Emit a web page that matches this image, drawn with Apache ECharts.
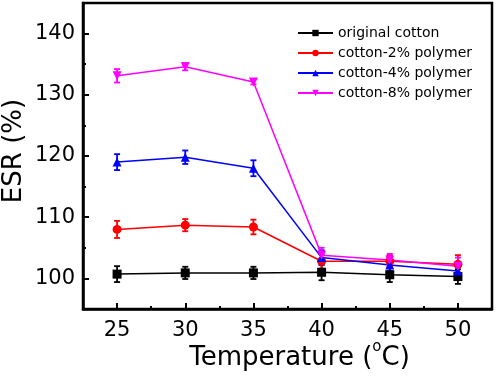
<!DOCTYPE html>
<html>
<head>
<meta charset="utf-8">
<script src="https://cdn.jsdelivr.net/npm/echarts@6/dist/echarts.min.js"></script>
<style>
  html, body { margin: 0; padding: 0; background: #fff; }
  #main { width: 498px; height: 377px; }
</style>
</head>
<body>
<div id="main"></div>
<script>
// temperatures (°C)
var temps = [25, 30, 35, 40, 45, 50];
var seriesNames = ['original cotton', 'cotton-2% polymer', 'cotton-4% polymer', 'cotton-8% polymer'];
var colors = ['#000000', '#ff0000', '#0000ff', '#ff00ff'];

// ESR values
var esrOriginal = [100.7, 100.9, 100.9, 101.0, 100.6, 100.3];
var esr2 = [108.0, 108.7, 108.4, 102.8, 102.8, 102.3];
var esr4 = [119.0, 119.8, 118.0, 103.4, 102.2, 101.2];
var esr8 = [133.1, 134.6, 132.1, 103.8, 103.0, 102.0];

// error bar half widths
var errOriginal = [1.3, 1.0, 1.0, 1.3, 1.2, 1.2];
var err2 = [1.4, 1.0, 1.2, 1.2, 1.0, 1.5];
var err4 = [1.3, 1.1, 1.3, 1.2, 1.0, 1.0];
var err8 = [1.1, 0.6, 0.4, 1.2, 1.0, 1.4];

var xTicks = [25, 30, 35, 40, 45, 50];
var xMinor = [27.5, 32.5, 37.5, 42.5, 47.5];
var yTicks = [100, 110, 120, 130, 140];
var yMinor = [105, 115, 125, 135];

var values = [esrOriginal, esr2, esr4, esr8];
var errors = [errOriginal, err2, err4, err8];
var symbols = ['rect', 'circle', 'triangle', 'path://M0,0 L10,0 L5,9 Z'];

var font = 'DejaVu Sans, Liberation Sans, sans-serif';
var myChart = echarts.init(document.getElementById('main'));

var series = [];
for (var s = 0; s < values.length; s++) {
    var pts = [];
    var bars = [];
    for (var i = 0; i < temps.length; i++) {
        pts.push([temps[i], values[s][i]]);
        bars.push([temps[i], values[s][i] - errors[s][i], values[s][i] + errors[s][i]]);
    }
    series.push({
        name: seriesNames[s],
        type: 'line',
        data: pts,
        symbol: symbols[s],
        symbolSize: 9,
        color: colors[s],
        lineStyle: { width: 1.5, color: colors[s] },
        itemStyle: { color: colors[s] },
        z: 3
    });
    series.push({
        name: seriesNames[s],
        type: 'custom',
        data: bars,
        z: 2,
        renderItem: (function (col) {
            return function (params, api) {
                var x = api.value(0);
                var lo = api.coord([x, api.value(1)]);
                var hi = api.coord([x, api.value(2)]);
                var w = 3;
                var st = { stroke: col, lineWidth: 1.8 };
                return {
                    type: 'group',
                    children: [
                        { type: 'line', shape: { x1: lo[0], y1: lo[1], x2: hi[0], y2: hi[1] }, style: st },
                        { type: 'line', shape: { x1: lo[0] - w, y1: lo[1], x2: lo[0] + w, y2: lo[1] }, style: st },
                        { type: 'line', shape: { x1: hi[0] - w, y1: hi[1], x2: hi[0] + w, y2: hi[1] }, style: st }
                    ]
                };
            };
        })(colors[s])
    });
}

var option = {
    animation: false,
    backgroundColor: '#fff',
    textStyle: { fontFamily: font },
    grid: {
        left: 83, top: 3, right: 6, bottom: 68,
        outerBoundsMode: 'none',
        containLabel: false,
        show: true, borderColor: '#000', borderWidth: 2.5, backgroundColor: 'transparent'
    },
    legend: {
        data: seriesNames,
        orient: 'vertical',
        left: 292,
        top: 21,
        itemWidth: 35,
        itemHeight: 8,
        itemGap: 6,
        textStyle: { fontSize: 14, color: '#000', fontFamily: font }
    },
    xAxis: [{
        type: 'value',
        min: 22.5, max: 52.5, interval: 2.5,
        splitLine: { show: false },
        axisLine: { show: true, lineStyle: { color: '#000', width: 2.5 } },
        axisTick: { inside: true, length: 6, customValues: xTicks, lineStyle: { color: '#000', width: 2 } },
        axisLabel: { customValues: xTicks, fontSize: 21, color: '#000', margin: 11, fontFamily: font },
        name: '{a|Temperature (}{s|o}{a|C)}',
        nameLocation: 'middle',
        nameGap: 31,
        nameMoveOverlap: false,
        nameTextStyle: {
            padding: [0, 0, 0, 24],
            rich: {
                a: { fontSize: 26, lineHeight: 36, color: '#000', fontFamily: font },
                s: { fontSize: 15, lineHeight: 12, color: '#000', verticalAlign: 'top', fontFamily: font }
            }
        }
    }, {
        type: 'value',
        position: 'bottom',
        min: 22.5, max: 52.5, interval: 2.5,
        splitLine: { show: false },
        axisLine: { show: false },
        axisTick: { inside: true, length: 3, customValues: xMinor, lineStyle: { color: '#000', width: 2 } },
        axisLabel: { show: false }
    }],
    yAxis: [{
        type: 'value',
        min: 95, max: 145, interval: 5,
        splitLine: { show: false },
        axisLine: { show: true, lineStyle: { color: '#000', width: 2.5 } },
        axisTick: { inside: true, length: 6, customValues: yTicks, lineStyle: { color: '#000', width: 2 } },
        axisLabel: { customValues: yTicks, fontSize: 21, color: '#000', margin: 8, fontFamily: font },
        name: 'ESR (%)',
        nameLocation: 'middle',
        nameGap: 56,
        nameMoveOverlap: false,
        nameTextStyle: { fontSize: 26, color: '#000', fontFamily: font, padding: [0, 0, 0, 10] }
    }, {
        type: 'value',
        position: 'left',
        min: 95, max: 145, interval: 5,
        splitLine: { show: false },
        axisLine: { show: false },
        axisTick: { inside: true, length: 3, customValues: yMinor, lineStyle: { color: '#000', width: 2 } },
        axisLabel: { show: false }
    }],
    series: series
};

myChart.setOption(option);
</script>
</body>
</html>
